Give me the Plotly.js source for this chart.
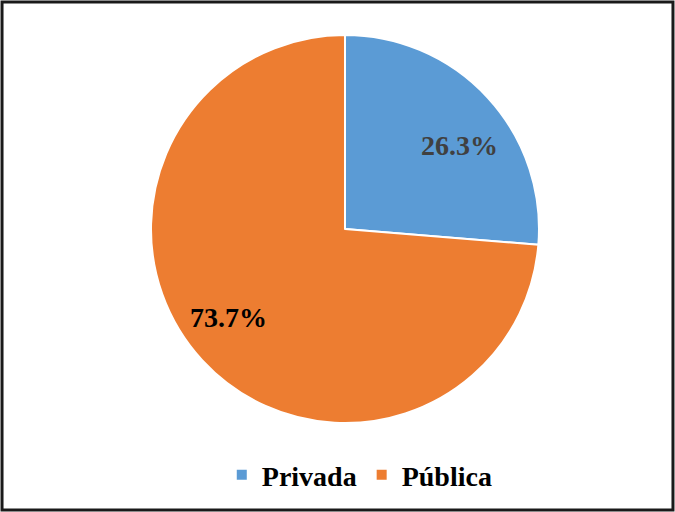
<!DOCTYPE html>
<html>
<head>
<meta charset="utf-8">
<script src="https://cdn.plot.ly/plotly-3.0.1.min.js"></script>
<style>body{margin:0;padding:0;background:#fff;}#chart{width:675px;height:512px;}</style>
</head>
<body>
<div id="chart"></div>
<script>
var categories = ["Privada", "Pública"];
var values = [26.3, 73.7];
var sliceColors = ["#5B9BD5", "#ED7D31"];
var labelColors = ["#404040", "#000000"];

var serif = "Liberation Serif, Times New Roman, serif";

var trace = {
  type: "pie",
  labels: categories,
  values: values,
  sort: false,
  direction: "clockwise",
  rotation: 0,
  marker: {colors: sliceColors, line: {color: "#ffffff", width: 2}},
  textinfo: "none",
  hoverinfo: "label+percent",
  domain: {x: [0.2237, 0.7985], y: [0.1738, 0.9316]}
};

// data-label placement (paper coords) for each slice
var labelPos = [[0.680, 0.715], [0.338, 0.379]];
var annotations = values.map(function (v, i) {
  return {
    xref: "paper", yref: "paper",
    x: labelPos[i][0], y: labelPos[i][1],
    xanchor: "center", yanchor: "middle",
    text: v.toFixed(1) + "%",
    showarrow: false,
    font: {family: serif, size: 28, color: labelColors[i], weight: "bold"}
  };
});

var layout = {
  width: 675,
  height: 512,
  margin: {l: 0, r: 0, t: 0, b: 0},
  paper_bgcolor: "#ffffff",
  showlegend: true,
  legend: {
    orientation: "h",
    x: 0.533, xanchor: "center",
    y: 0.072, yanchor: "middle",
    font: {family: serif, size: 28, color: "#000000", weight: "bold"},
    itemclick: false
  },
  annotations: annotations,
  shapes: [{
    type: "rect", xref: "paper", yref: "paper",
    x0: 0.003, x1: 0.997, y0: 0.004, y1: 0.996,
    line: {color: "#1a1a1a", width: 3}
  }]
};

Plotly.newPlot("chart", [trace], layout, {displayModeBar: false, staticPlot: true});
</script>
</body>
</html>
